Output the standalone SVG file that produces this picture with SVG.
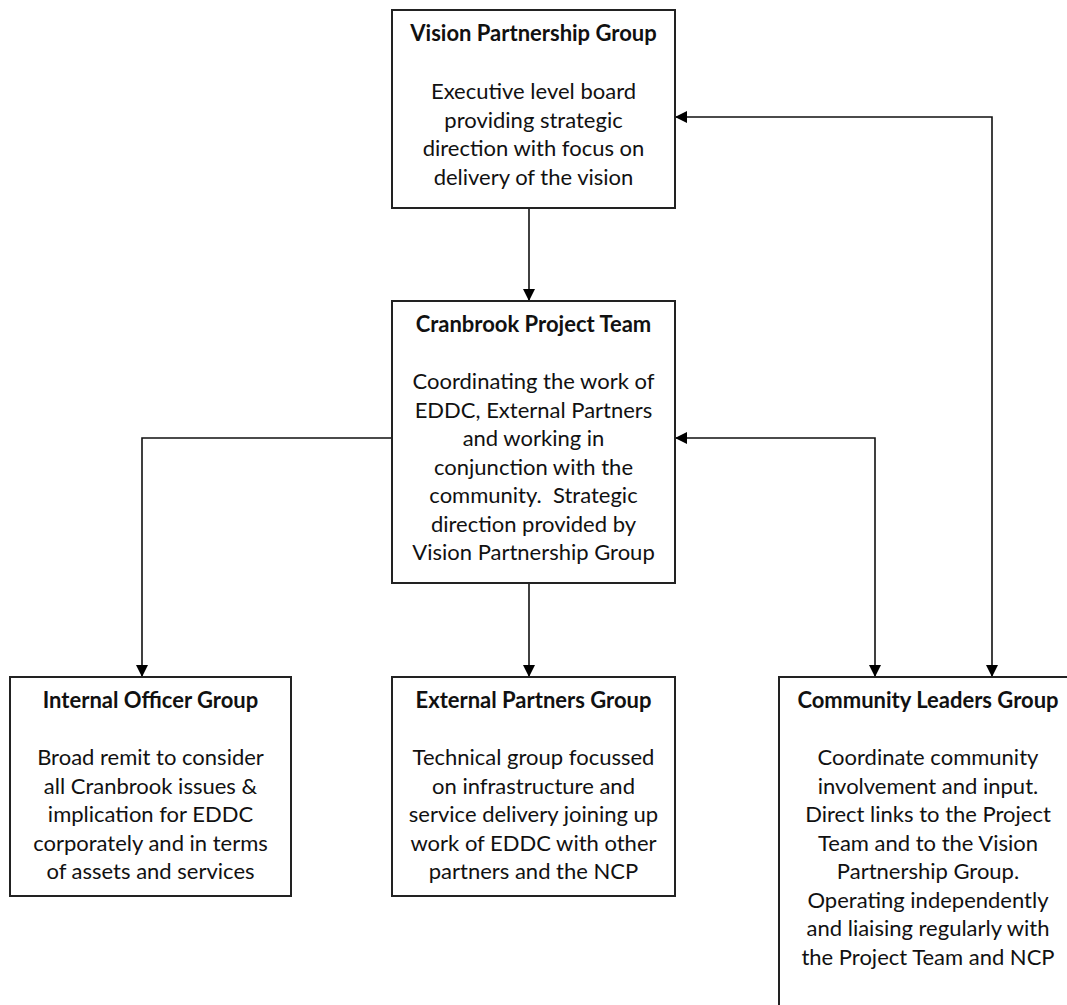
<svg xmlns="http://www.w3.org/2000/svg" width="1067" height="1005" viewBox="0 0 1067 1005">
<style>
.box{fill:#fff;stroke:#222;stroke-width:2}
.t{font-family:Lato,"Liberation Sans",sans-serif;font-size:22px;fill:#111;text-anchor:middle}
.b{font-weight:bold}
.c{fill:none;stroke:#111;stroke-width:1.6}
</style>
<defs>
<marker id="ah" viewBox="0 0 12 12" refX="12" refY="6" markerWidth="12" markerHeight="12" markerUnits="userSpaceOnUse" orient="auto-start-reverse">
<path d="M0,0 L12,6 L0,12 z" fill="#000"/>
</marker>
</defs>
<rect width="1067" height="1005" fill="#fff"/>
<g id="connectors">
<path class="c" d="M529,208 V301" marker-end="url(#ah)"/>
<path class="c" d="M392,438 H142 V677" marker-end="url(#ah)"/>
<path class="c" d="M529,583 V677" marker-end="url(#ah)"/>
<path class="c" d="M675,438 H875 V677" marker-start="url(#ah)" marker-end="url(#ah)"/>
<path class="c" d="M675,117 H992 V677" marker-start="url(#ah)" marker-end="url(#ah)"/>
</g>
<g id="vision">
<rect class="box" x="392" y="10" width="283" height="198"/>
<text class="t b" x="533.5" y="41">Vision Partnership Group</text>
<text class="t" x="533.5" y="99">Executive level board</text>
<text class="t" x="533.5" y="127.5">providing strategic</text>
<text class="t" x="533.5" y="156">direction with focus on</text>
<text class="t" x="533.5" y="184.5">delivery of the vision</text>
</g>
<g id="cranbrook">
<rect class="box" x="392" y="301" width="283" height="282"/>
<text class="t b" x="533.5" y="332">Cranbrook Project Team</text>
<text class="t" x="533.5" y="389">Coordinating the work of</text>
<text class="t" x="533.5" y="417.5">EDDC, External Partners</text>
<text class="t" x="533.5" y="446">and working in</text>
<text class="t" x="533.5" y="474.5">conjunction with the</text>
<text class="t" x="533.5" y="503" xml:space="preserve">community.  Strategic</text>
<text class="t" x="533.5" y="531.5">direction provided by</text>
<text class="t" x="533.5" y="560">Vision Partnership Group</text>
</g>
<g id="internal">
<rect class="box" x="10" y="677" width="281" height="219"/>
<text class="t b" x="150.5" y="708">Internal Officer Group</text>
<text class="t" x="150.5" y="765">Broad remit to consider</text>
<text class="t" x="150.5" y="793.5">all Cranbrook issues &amp;</text>
<text class="t" x="150.5" y="822">implication for EDDC</text>
<text class="t" x="150.5" y="850.5">corporately and in terms</text>
<text class="t" x="150.5" y="879">of assets and services</text>
</g>
<g id="external">
<rect class="box" x="392" y="677" width="283" height="219"/>
<text class="t b" x="533.5" y="708">External Partners Group</text>
<text class="t" x="533.5" y="765">Technical group focussed</text>
<text class="t" x="533.5" y="793.5">on infrastructure and</text>
<text class="t" x="533.5" y="822">service delivery joining up</text>
<text class="t" x="533.5" y="850.5">work of EDDC with other</text>
<text class="t" x="533.5" y="879">partners and the NCP</text>
</g>
<g id="community">
<rect class="box" x="779" y="677" width="300" height="340"/>
<text class="t b" x="928" y="708">Community Leaders Group</text>
<text class="t" x="928" y="765">Coordinate community</text>
<text class="t" x="928" y="793.5">involvement and input.</text>
<text class="t" x="928" y="822">Direct links to the Project</text>
<text class="t" x="928" y="850.5">Team and to the Vision</text>
<text class="t" x="928" y="879">Partnership Group.</text>
<text class="t" x="928" y="907.5">Operating independently</text>
<text class="t" x="928" y="936">and liaising regularly with</text>
<text class="t" x="928" y="964.5">the Project Team and NCP</text>
</g>
</svg>
